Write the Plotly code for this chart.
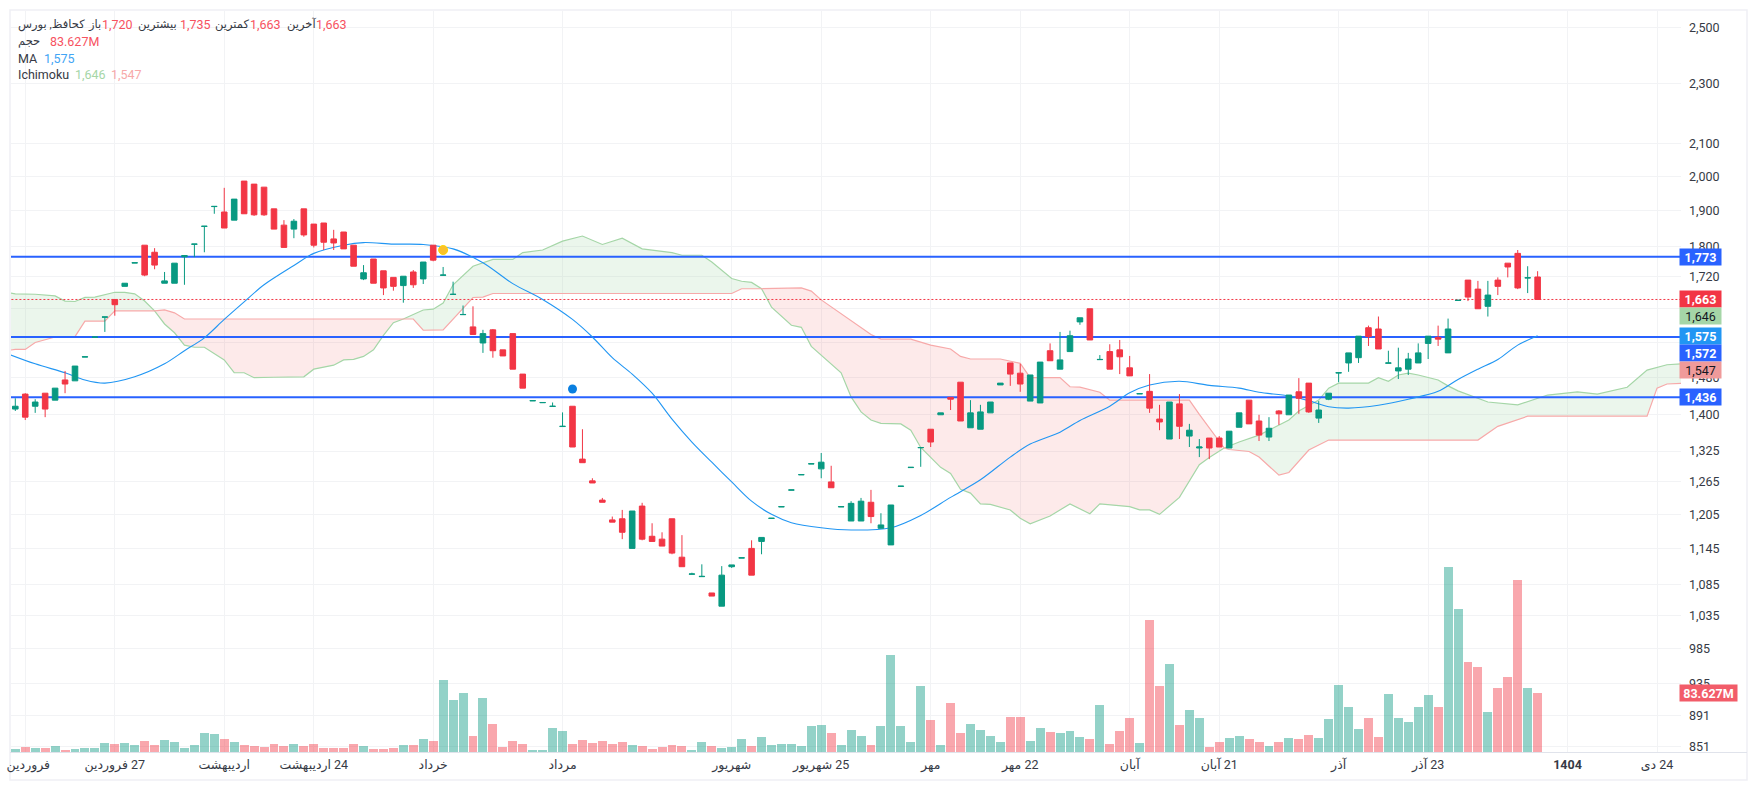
import plotly.graph_objects as go

W, H = 1757, 790
L_, R_, T_, B_ = 11, 1681, 11, 752

open_ = [1411,1443,1417,1445,1430,1474,1472,1525.5,1571.5,1619.5,1663,1696,1756.5,1804,1785,1704,1704,1773,1806.5,1855.5,
         1911.5,1896,1873,1986,1977,1968,1905,1859,1848,1905,1862,1865,1821,1840,1804,1715,1767,1736,1719,1698,
         1733,1715,1804,1724.5,1675.5,1625.5,1596,1558,1589,1542,1580,1487,1428.5,1424.5,1416.5,1374.5,1417,1309,1267,1231,
         1195,1197,1145,1220,1166,1161,1197,1130,1101.5,1097.5,1071,1050,1114,1128.5,1145,1157,1197.5,1218.5,1249.5,1278.5,
         1299.5,1290,1265,1218.5,1193,1193,1227,1180,1151,1256.5,1292.5,1331.5,1369,1399,1436,1469,1372,1369,1403,1463,
         1512,1489,1428,1424,1540,1498,1538,1608,1640,1519.5,1538,1542,1501,1443.5,1449,1390,1349,1422,1355,1331,
         1351,1351,1331,1373,1430,1386,1353,1407,1399,1448,1467,1392,1432,1489.5,1512,1524,1594,1591,1511.5,1494,
         1498,1512,1557,1571,1535,1660.5,1712,1689,1646,1712,1756,1782,1717.5,1720]
high = [1434,1445,1432,1445,1456,1494,1505,1526,1572,1620,1663,1704,1757,1804,1796,1733,1756,1776,1807,1856,
        1912,1966,1933,1986,1977,1968,1905,1873,1876,1905,1862,1865,1846,1840,1804,1751,1767,1736,1719,1722,
        1738,1759,1804,1746,1708,1648,1646,1589,1591,1542,1580,1487,1429,1425,1425,1404,1417,1369,1272,1235,
        1201,1213,1211,1226,1189,1173,1197,1168,1104,1118,1071,1115,1117,1129,1159,1164,1198,1219,1250,1279,
        1300,1321,1296,1219,1229,1235,1250,1207,1222,1257,1293,1332,1369,1403,1436,1469,1430,1420,1426,1467,
        1512,1510,1485,1514,1557,1584,1587,1618,1640,1530,1555,1565,1528,1444,1487,1420,1426,1443,1380,1349,
        1351,1355,1365,1403,1430,1399,1394,1409,1441,1478,1467,1428,1445,1490,1535,1574,1599,1621,1540,1547,
        1535,1557,1574,1599,1616,1661,1712,1710,1710,1719,1756,1791,1748,1735]
low = [1407,1388,1403,1394,1430,1445,1472,1525.5,1571.5,1584,1623,1696,1756.5,1722,1740,1704,1704,1700,1772,1785,
       1891,1851,1873,1891,1885,1885,1848,1798,1823,1827,1798,1791,1791,1794,1748,1712,1704,1674,1685,1655,
       1692,1702,1761,1724.5,1675.5,1625.5,1578,1535,1524,1528,1498,1456,1428.5,1424.5,1416.5,1374.5,1333,1302,1263,1227,
       1191,1161,1145,1159,1157,1149,1135,1114,1101.5,1097.5,1066,1050,1112,1128.5,1100,1135,1197.5,1218.5,1249.5,1278.5,
       1299.5,1272,1254,1218.5,1193,1193,1189,1180,1151,1256.5,1292.5,1294,1333,1399,1409,1386,1372,1369,1403,1463,
       1461,1448,1428,1424,1517,1498,1538,1601,1565,1519.5,1498,1487,1483,1443.5,1403,1367,1349,1349,1333,1313,
       1309,1333,1331,1373,1380,1345,1345,1378,1399,1401,1403,1382,1430,1469,1492,1512,1551,1544,1511.5,1476,
       1485,1512,1521,1551,1535,1660.5,1659,1640,1621,1674,1719,1689,1679,1663]
close = [1417,1394,1426,1411,1456,1465,1505,1526,1572,1620,1650,1704,1757,1725,1751,1710,1756,1776,1807,1856,
         1912,1851,1933,1891,1888,1888,1848,1798,1870,1832,1804,1812,1810,1794,1748,1731,1704,1692,1696,1722,
         1700,1759,1764,1725,1676,1626,1578,1580,1540,1528,1498,1456,1429,1425,1417,1375,1333,1302,1263,1227,
         1191,1173,1211,1161,1157,1149,1137,1114,1102,1098,1066,1100,1117,1129,1100,1164,1198,1219,1250,1279,
         1300,1303,1254,1219,1225,1229,1201,1186,1222,1257,1293,1332,1343,1403,1432,1386,1403,1405,1426,1467,
         1487,1465,1485,1514,1517,1519,1575,1618,1565,1520,1498,1526,1483,1444,1413,1384,1426,1375,1367,1333,
         1331,1333,1365,1403,1380,1357,1371,1401,1441,1434,1405,1409,1445,1490,1535,1574,1573,1544,1512,1501,
         1521,1535,1574,1567,1591,1661,1669,1640,1674,1696,1746,1692,1718,1663]
volume = [4.7,7.6,6.1,6.1,9,3.3,4.7,6.1,6.1,13.2,11.8,13.2,10.4,16.1,10.4,17.5,14.6,6.1,10.4,27.4,26,18.9,14.6,10.4,9,7.6,
          11.8,9,11.8,9,11.8,6.1,6.1,6.1,11.8,9,4.7,4.7,6.1,10.4,10.4,18.9,16.1,102.5,74.2,84.1,23.2,77,40.2,7.6,16.1,
          11.8,3.3,3.3,34.5,30.2,11.8,17.5,13.2,16.1,11.8,14.6,10.4,9,4.7,7.6,10.4,9,3.3,14.6,9,6.1,7.6,18.9,9,21.7,10.4,
          11.8,11.8,9,37.3,38.7,27.4,10.4,31.7,23.2,10.4,37.3,138,37.3,14.6,94,45.8,10.4,69.9,27.4,40.2,31.7,23.2,14.6,
          50.1,50.1,16.1,34.5,28.4,26.9,29.8,21.3,18.4,66.6,11.3,29.8,48.2,12.8,187.1,93.6,124.7,38.3,59.5,48.2,7.1,14.2,
          19.8,22.7,18.4,14.2,8.5,14.2,19.8,18.4,24.1,19.8,46.8,95,63.8,32.6,48.2,21.3,82.2,48.2,42.5,63.8,80.8,63.8,
          262.2,202.7,127.6,120.5,56.7,90.7,106.3,243.8,90.7,83.627]

ma_idx = [-1,2,5,7,9,12,15,17,19,21,23,25,28,30,33,35,38,41,44,47,50,53,56,58,60,62,64,66,68,70,72,74,76,78,81,84,88,91,94,97,
          100,102,105,107,110,112,114,117,120,123,125,128,130,132,134,137,140,143,145,147,149,151,153]
ma_val = [1535,1510,1490,1474,1467,1481,1510,1540,1570,1614,1657,1700,1750,1782,1804,1811,1807,1806,1794,1757,1703,1663,1614,1572,
          1524,1487,1445,1390,1343,1303,1265,1229,1205,1190,1181,1177,1181,1203,1236,1269,1313,1339,1363,1387,1417,1446,1463,1471,
          1462,1456,1447,1439,1429,1416,1413,1419,1432,1449,1475,1498,1520,1553,1575]

span_a_idx = [-1,0,2,4,5,6,7,8,10,11,12,13,14,15,16,17,18,19,21,22,23,24,26,29,30,32,33,34,35,36,37,38,39,41,42,43,44,46,48,50,51,
              53,55,57,59,61,63,65,66,67,69,70,72,73,74,75,76,78,79,80,83,84,85,86,87,89,90,91,93,94,95,96,97,98,99,100,101,102,
              104,106,108,109,112,113,114,115,117,119,120,121.5,123,125,128,129,131,132,133,136,137,138,139,140,141,143,144,145,
              148,151,154,157,159,162,164,166,168]
span_a = [1682,1677,1676,1672,1659,1658,1668,1669,1681,1681,1677,1659,1635,1603,1582,1553,1548,1548,1519,1490,1490,1479,1480,1481,
          1498,1507,1519,1520,1527,1542,1576,1606,1615,1637,1639,1654,1700,1748,1766,1766,1784,1791,1815,1829,1806,1823,1794,1786,
          1784,1777,1777,1759,1716,1709,1706,1690,1644,1600,1595,1550,1490,1437,1405,1388,1381,1380,1367,1332,1293,1281,1251,1244,
          1224,1223,1218,1213,1198,1188,1202,1224,1206,1224,1219,1213,1213,1205,1236,1298,1312,1331,1343,1357,1388,1407,1430,1456,
          1467,1467,1479,1471,1485,1489,1485,1474,1461,1450,1426,1420,1441,1448,1443,1458,1496,1508,1511]
span_b_idx = [-1,0,1,2,4,6,7,9,10,14,15,16,17,39,40,41,43,46,47,48,72,73,75,79,80,81,83,86,87,90,92,94,95,96,99,101,102,105,106,107,
              109,110,114,118,119,120,121.5,122,124,125,127,128,130,132,147,149,152,164,165,166,168]
span_b = [1540,1543,1543,1559,1572,1573,1610,1610,1635,1635,1637,1630,1615,1615,1615,1588,1589,1668,1669,1678,1678,1690,1690,1692,
          1684,1662,1627,1578,1567,1567,1553,1544,1527,1521,1521,1511,1479,1479,1459,1458,1447,1430,1430,1430,1400,1372,1331,1328,
          1324,1313,1278,1283,1327,1347,1347,1375,1396,1396,1456,1465,1467]
cloud_crossings = [-1, 14, 39, 75, 121.5, 168]

levels = [1773, 1572, 1436]
last_price = 1663
yellow_dot = (43, 1791)
blue_dot = (56, 1454)

y_ticks = [2500,2300,2100,2000,1900,1800,1720,1640,1560,1480,1400,1325,1265,1205,1145,1085,1035,985,935,891,851]
y_hidden = [1640, 1560]  # covered by the price tags in the reference
x_ticks = [1,10,21,30,42,55,72,81,92,101,112,121,133,142,156,165]
RLM = "\u200f"
x_labels = ["\u00a0\u00a0فروردین", RLM+"27 فروردین", "اردیبهشت", RLM+"24 اردیبهشت", "خرداد", "مرداد", "شهریور", RLM+"25 شهریور",
            "مهر", RLM+"22 مهر", "آبان", RLM+"21 آبان", "آذر", RLM+"23 آذر", "<b>1404</b>", RLM+"24 دی"]

GREEN, RED = "#089981", "#f23645"
BLUE = "#2962ff"
MA_C = "#2196f3"
A_C, B_C = "#a5d6a7", "#f7a9a9"
TEXT = "#131722"
GRID = "#f2f3f5"
FONT = "Roboto, 'DejaVu Sans', sans-serif"

def px(x): return (x - L_) / (R_ - L_)
def py(y): return (B_ - y) / (B_ - T_)

fig = go.Figure()

n = len(close)
xs = list(range(n))
vol_col = ["rgba(8,153,129,0.44)" if c >= o else "rgba(242,54,69,0.44)" for o, c in zip(open_, close)]
fig.add_bar(x=xs, y=volume, marker=dict(color=vol_col, line_width=0), width=0.9, yaxis="y", showlegend=False)

for a, b, col in zip(cloud_crossings[:-1], cloud_crossings[1:],
                     ["rgba(165,214,167,0.22)", "rgba(239,83,80,0.12)", "rgba(165,214,167,0.22)",
                      "rgba(239,83,80,0.12)", "rgba(165,214,167,0.22)"]):
    ax = [(i, v) for i, v in zip(span_a_idx, span_a) if a <= i <= b]
    bx = [(i, v) for i, v in zip(span_b_idx, span_b) if a <= i <= b]
    poly = ax + bx[::-1]
    fig.add_scatter(x=[p[0] for p in poly], y=[p[1] for p in poly], mode="lines", fill="toself",
                    fillcolor=col, line_width=0, yaxis="y2", showlegend=False, hoverinfo="skip")
fig.add_scatter(x=span_a_idx, y=span_a, mode="lines", line=dict(color=A_C, width=1.2), yaxis="y2", showlegend=False)
fig.add_scatter(x=span_b_idx, y=span_b, mode="lines", line=dict(color=B_C, width=1.2), yaxis="y2", showlegend=False)

for lv in levels:
    fig.add_scatter(x=[-2, 170], y=[lv, lv], mode="lines", line=dict(color=BLUE, width=2), yaxis="y2", showlegend=False)
fig.add_scatter(x=[-2, 170], y=[last_price, last_price], mode="lines",
                line=dict(color=RED, width=1, dash="2px,2px"), yaxis="y2", showlegend=False)
fig.add_scatter(x=ma_idx, y=ma_val, mode="lines", line=dict(color=MA_C, width=1.1, shape="spline", smoothing=0.9),
                yaxis="y2", showlegend=False)

fig.add_candlestick(x=xs, open=open_, high=high, low=low, close=close, yaxis="y3", showlegend=False,
                    increasing=dict(line=dict(color=GREEN, width=1), fillcolor=GREEN),
                    decreasing=dict(line=dict(color=RED, width=1), fillcolor=RED), whiskerwidth=0)
fig.add_scatter(x=[yellow_dot[0]], y=[yellow_dot[1]], mode="markers", yaxis="y3", showlegend=False,
                marker=dict(color="#fbc02d", size=9, line=dict(color="#ffd600", width=1)))
fig.add_scatter(x=[blue_dot[0]], y=[blue_dot[1]], mode="markers", yaxis="y3", showlegend=False,
                marker=dict(color="#0a7fe0", size=9))

ann = []
def label(x, y, text, color=TEXT, size=12.5):
    ann.append(dict(xref="paper", yref="paper", x=px(x - 2), y=py(y), xanchor="left", yanchor="middle",
                    text=text, showarrow=False, font=dict(family=FONT, size=size, color=color)))
DARK = "#363a45"
VAL = "#f7525f"
label(18, 25, "کحافظ, بورس", DARK, 11.5)
label(88, 25, "باز", DARK, 11.5); label(102, 25, "1,720", VAL)
label(138, 25, "بیشترین", DARK, 11.5); label(180, 25, "1,735", VAL)
label(215, 25, "کمترین", DARK, 11.5); label(250, 25, "1,663", VAL)
label(287, 25, "آخرین", DARK, 11.5); label(316, 25, "1,663", VAL)
label(18, 41, "حجم", DARK, 11.5); label(50, 41, "83.627M", VAL)
label(18, 58, "MA", DARK); label(44, 58, "1,575", "#42a5f5")
label(18, 74, "Ichimoku", DARK); label(75, 74, "1,646", A_C); label(111, 74, "1,547", B_C)

def box(y, text, bg, fg="#ffffff", w=41):
    ann.append(dict(xref="paper", yref="paper", x=px(1679), y=py(y), xanchor="left", yanchor="middle",
                    text=text, showarrow=False, width=w, height=16, bgcolor=bg, borderpad=0, align="center",
                    font=dict(family=FONT, size=12.5, color=fg)))
box(257, "<b>1,773</b>", BLUE)
box(299, "<b>1,663</b>", RED)
box(316, "1,646", A_C, "#131722")
box(335.5, "<b>1,575</b>", MA_C)
box(352.5, "<b>1,572</b>", BLUE)
box(370, "1,547", "#ef9a9a", "#131722")
box(397, "<b>1,436</b>", BLUE)
box(693, "<b>83.627M</b>", "#f25c69", w=57)

rng = [2.92624, 3.40872]
tick_txt = ["" if v in y_hidden else f"{v:,}" for v in y_ticks]
frame = "#eff0f5"
shapes = [
    dict(type="rect", xref="paper", yref="paper", x0=px(10), x1=px(1747), y0=py(780), y1=py(10),
         line=dict(color=frame, width=1.5), layer="below"),
    dict(type="line", xref="paper", yref="paper", x0=px(10), x1=px(1747), y0=py(752.5), y1=py(752.5),
         line=dict(color="#e0e3eb", width=1), layer="below"),
]

fig.update_layout(
    width=W, height=H, margin=dict(l=L_, r=W - R_, t=T_, b=H - B_, autoexpand=False),
    paper_bgcolor="white", plot_bgcolor="white", bargap=0, boxgap=0.2, showlegend=False, annotations=ann, shapes=shapes,
    font=dict(family=FONT, size=12.5, color=TEXT),
    xaxis=dict(range=[-0.432, 167.41], tickmode="array", tickvals=x_ticks, ticktext=x_labels, showgrid=True,
               gridcolor=GRID, gridwidth=1, zeroline=False, showline=False, ticks="outside", ticklen=1,
               tickcolor="rgba(0,0,0,0)", tickfont=dict(family=FONT, size=12.5, color="#363a45"),
               rangeslider=dict(visible=False), tickangle=0, ticklabeloverflow="allow"),
    yaxis=dict(range=[0, 1050], visible=False, fixedrange=True),
    yaxis2=dict(type="log", range=rng, overlaying="y", side="right", tickmode="array", tickvals=y_ticks,
                ticktext=tick_txt, showgrid=True, gridcolor=GRID, gridwidth=1, zeroline=False, showline=False,
                ticks="", ticklabelstandoff=7, tickfont=dict(family=FONT, size=12.5, color="#363a45")),
    yaxis3=dict(type="log", range=rng, overlaying="y", side="right", showgrid=False, showticklabels=False,
                ticks="", zeroline=False, showline=False),
)
fig.write_html("out.html", config=dict(displayModeBar=False),
               post_script="document.body.style.margin='0';document.body.style.overflow='hidden';")
